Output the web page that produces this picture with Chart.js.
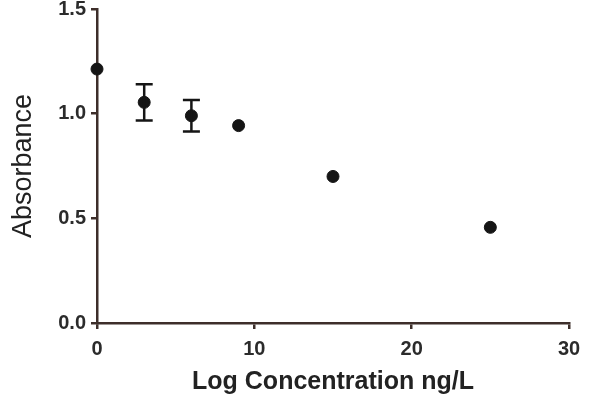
<!DOCTYPE html>
<html>
<head>
<meta charset="utf-8">
<script src="https://cdn.jsdelivr.net/npm/chart.js@4.4.1/dist/chart.umd.min.js"></script>
<style>
  html, body { margin: 0; padding: 0; background: #fff; }
  #wrap { width: 591px; height: 402px; }
</style>
</head>
<body>
<div id="wrap"><canvas id="absChart"></canvas></div>
<script>
// concentration (x) vs absorbance (y), +/- error where measured
const concentrations = [0, 3, 6, 9, 15, 25];
const absorbance = [1.213, 1.054, 0.990, 0.943, 0.700, 0.457];
const errors = [0, 0.087, 0.075, 0, 0, 0];
const xTicks = [0, 10, 20, 30];
const yTicks = [0.0, 0.5, 1.0, 1.5];

const axisColor = '#3d2e2a';
const textColor = '#2b2b2b';

// draws the vertical error bars with caps
const errorBars = {
    id: 'errorBars',
    afterDatasetsDraw(chart) {
        const x = chart.scales.x, y = chart.scales.y;
        const ctx = chart.ctx;
        ctx.save();
        ctx.strokeStyle = '#151515';
        ctx.lineWidth = 2.5;
        concentrations.forEach((c, i) => {
            if (!errors[i]) return;
            const px = x.getPixelForValue(c);
            const top = y.getPixelForValue(absorbance[i] + errors[i]);
            const bot = y.getPixelForValue(absorbance[i] - errors[i]);
            ctx.beginPath();
            ctx.moveTo(px, top); ctx.lineTo(px, bot);
            ctx.moveTo(px - 8.5, top); ctx.lineTo(px + 8.5, top);
            ctx.moveTo(px - 8.5, bot); ctx.lineTo(px + 8.5, bot);
            ctx.stroke();
        });
        ctx.restore();
    }
};

const ctx = document.getElementById('absChart').getContext('2d');

new Chart(ctx, {
    type: 'scatter',
    data: {
        datasets: [{
            label: 'Absorbance',
            data: concentrations.map((c, i) => ({ x: c, y: absorbance[i] })),
            backgroundColor: '#151515',
            borderColor: '#151515',
            pointRadius: 6,
            pointHoverRadius: 6,
            clip: false
        }]
    },
    options: {
        responsive: true,
        maintainAspectRatio: false,
        animation: false,
        layout: { padding: { left: 0, top: 0, right: 22, bottom: 0 } },
        plugins: { legend: { display: false }, tooltip: { enabled: false } },
        scales: {
            x: {
                type: 'linear',
                min: 0,
                max: 30,
                afterBuildTicks: (s) => { s.ticks = xTicks.map(v => ({ value: v })); },
                afterFit: (s) => { s.height = 79; },
                border: { display: true, color: axisColor, width: 2.5 },
                grid: { display: true, drawOnChartArea: false, drawTicks: true, tickLength: 6, color: axisColor, lineWidth: 2.5 },
                ticks: {
                    color: textColor,
                    padding: 8,
                    maxRotation: 0,
                    font: { family: 'Liberation Sans, Arial, sans-serif', size: 20, weight: 'bold' }
                },
                title: {
                    display: true,
                    text: 'Log Concentration ng/L',
                    color: '#222',
                    padding: { top: 0, bottom: 5 },
                    font: { family: 'Liberation Sans, Arial, sans-serif', size: 25, weight: 'bold' }
                }
            },
            y: {
                min: 0,
                max: 1.5,
                afterBuildTicks: (s) => { s.ticks = yTicks.map(v => ({ value: v })); },
                afterFit: (s) => { s.width = 97; },
                border: { display: true, color: axisColor, width: 2.5 },
                grid: { display: true, drawOnChartArea: false, drawTicks: true, tickLength: 6, color: axisColor, lineWidth: 2.5 },
                ticks: {
                    color: textColor,
                    padding: 5,
                    callback: (v) => Number(v).toFixed(1),
                    font: { family: 'Liberation Sans, Arial, sans-serif', size: 20, weight: 'bold', lineHeight: 0.4 }
                },
                title: {
                    display: true,
                    text: 'Absorbance',
                    color: '#222',
                    padding: { top: 7, bottom: 0 },
                    font: { family: 'Liberation Sans, Arial, sans-serif', size: 27 }
                }
            }
        }
    },
    plugins: [errorBars]
});
</script>
</body>
</html>
